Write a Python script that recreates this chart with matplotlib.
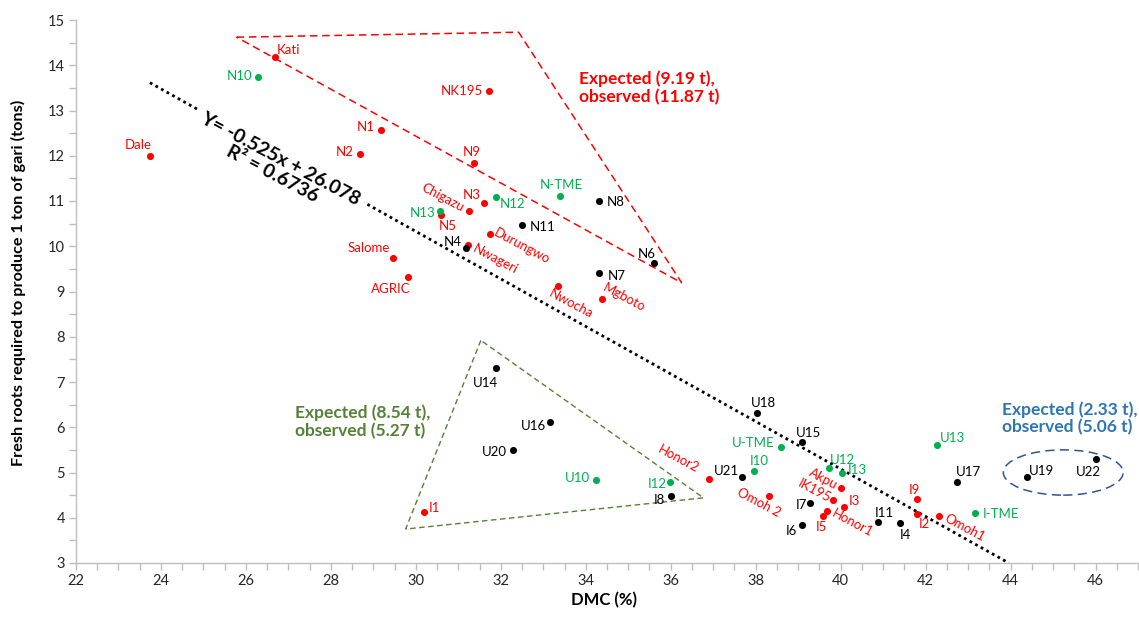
import numpy as np
import matplotlib
matplotlib.use("Agg")
import matplotlib.pyplot as plt
from matplotlib.patches import Polygon, Ellipse

plt.rcParams['font.family'] = ['Lato', 'DejaVu Sans']

# red varieties
red_names = ['Kati', 'Dale', 'N1', 'N2', 'NK195', 'N9', 'N3', 'Chigazu', 'N5', 'Durungwo',
             'Nwageri', 'Salome', 'AGRIC', 'Nwocha', 'Mgboto', 'I1', 'Honor2', 'Omoh 2',
             'Akpu', 'IK195', 'I3', 'Honor1', 'I5', 'I9', 'I2', 'Omoh1']
red_x = [26.69, 23.74, 29.18, 28.68, 31.73, 31.38, 31.60, 31.25, 30.60, 31.75,
         31.22, 29.47, 29.81, 33.35, 34.38, 30.19, 36.91, 38.31,
         40.02, 39.83, 40.09, 39.69, 39.58, 41.79, 41.79, 42.31]
red_y = [14.19, 12.00, 12.56, 12.03, 13.43, 11.85, 10.95, 10.79, 10.68, 10.28,
         10.03, 9.74, 9.32, 9.12, 8.83, 4.12, 4.85, 4.47,
         4.66, 4.39, 4.24, 4.14, 4.03, 4.42, 4.08, 4.04]

# green varieties
green_names = ['N10', 'N12', 'N-TME', 'N13', 'U10', 'I12', 'U-TME', 'I10', 'U12', 'I13', 'U13', 'I-TME']
green_x = [26.29, 31.89, 33.40, 30.58, 34.23, 35.99, 38.60, 37.97, 39.73, 40.03, 42.28, 43.17]
green_y = [13.75, 11.09, 11.12, 10.78, 4.83, 4.78, 5.56, 5.04, 5.11, 4.98, 5.60, 4.11]

# black varieties
black_names = ['N8', 'N11', 'N4', 'N6', 'N7', 'U14', 'U16', 'U20', 'I8', 'U18', 'U15',
               'U21', 'I7', 'I6', 'I11', 'I4', 'U17', 'U19', 'U22']
black_x = [34.31, 32.49, 31.17, 35.60, 34.30, 31.89, 33.16, 32.28, 36.01, 38.03, 39.08,
           37.68, 39.27, 39.10, 40.88, 41.39, 42.74, 44.39, 46.02]
black_y = [11.00, 10.46, 9.96, 9.63, 9.41, 7.30, 6.12, 5.49, 4.48, 6.32, 5.67,
           4.89, 4.32, 3.85, 3.90, 3.88, 4.80, 4.90, 5.29]

# trend line y = a*x + b
slope = -0.525
intercept = 26.078
r2 = 0.6736
trend_x0 = 23.74

# outline shapes
red_tri_x = [25.78, 32.42, 36.26]
red_tri_y = [14.62, 14.73, 9.19]
green_tri_x = [31.53, 29.76, 36.77]
green_tri_y = [7.92, 3.75, 4.44]
blue_ell = (45.24, 5.0, 2.82, 1.0)

# label placement: dx, dy (pixels, y down), ha, rotation
lab = {
    'Kati': (2, -8, 'left', 0), 'Dale': (2, -12, 'right', 0), 'N1': (-6, -4, 'right', 0),
    'N2': (-6, -3, 'right', 0), 'NK195': (-6, -1, 'right', 0), 'N9': (-3, -12, 'center', 0),
    'N3': (-3, -9, 'right', 0), 'Chigazu': (-26, -13, 'center', -28), 'N5': (6, 10, 'center', 0),
    'Durungwo': (32, 13, 'center', -28), 'Nwageri': (28, 14, 'center', -28),
    'Salome': (-3, -11, 'right', 0), 'AGRIC': (3, 11, 'right', 0),
    'Nwocha': (13, 18, 'center', -28), 'Mgboto': (22, -2, 'center', -28), 'I1': (5, -5, 'left', 0),
    'Honor2': (-31, -20, 'center', -28), 'Omoh 2': (-10, 6, 'center', -28),
    'Akpu': (-18, -9, 'center', -28), 'IK195': (-19, -9, 'center', -28), 'I3': (4, -7, 'left', 0),
    'Honor1': (25, 12, 'center', -28), 'I5': (-1, 10, 'center', 0), 'I9': (-2.5, -10, 'center', 0),
    'I2': (7.5, 9, 'center', 0), 'Omoh1': (26, 12, 'center', -28),
    'N10': (-6, -2, 'right', 0), 'N12': (4, 6, 'left', 0), 'N-TME': (1, -12, 'center', 0),
    'N13': (-5, 1, 'right', 0), 'U10': (-6, -3, 'right', 0), 'I12': (-4, 1, 'right', 0),
    'U-TME': (-7, -5, 'right', 0), 'I10': (5, -11, 'center', 0), 'U12': (1, -9, 'left', 0),
    'I13': (6, -4, 'left', 0), 'U13': (2, -8, 'left', 0), 'I-TME': (7, 0, 'left', 0),
    'N8': (8, 0, 'left', 0), 'N11': (8, 1, 'left', 0), 'N4': (-4, -7, 'right', 0),
    'N6': (-7, -10, 'center', 0), 'N7': (9, 2, 'left', 0), 'U14': (-11, 14, 'center', 0),
    'U16': (-4, 3, 'right', 0), 'U20': (-6, 1, 'right', 0), 'I8': (-6, 3, 'right', 0),
    'U18': (6, -11, 'center', 0), 'U15': (7, -10, 'center', 0), 'U21': (-3, -7, 'right', 0),
    'I7': (-3, 1, 'right', 0), 'I6': (-5, 5, 'right', 0), 'I11': (6, -10, 'center', 0),
    'I4': (6, 11, 'center', 0), 'U17': (-1, -11, 'left', 0), 'U19': (2, -7, 'left', 0),
    'U22': (-8, 12, 'center', 0),
}

RED = '#FF0000'
GREEN = '#00B050'
DKGREEN = '#548235'
BLUE = '#2E75B6'

fig = plt.figure(figsize=(11.39, 6.25), dpi=100)
ax = fig.add_axes([76 / 1139, 62 / 625, 1062 / 1139, 543 / 625])

# trend line
tx = np.array([trend_x0, (3 - intercept) / slope])
ax.plot(tx, slope * tx + intercept, color='black', lw=2.0, linestyle=(0, (1, 1.3)), zorder=1)

ax.text(26.72, 11.76, 'Y= %.3fx + %.3f\nR\u00b2 = %.4f' % (slope, intercept, r2),
        rotation=-28, ha='center', va='center', multialignment='center',
        fontsize=14, fontweight='bold', linespacing=1.0, zorder=2,
        bbox=dict(facecolor='white', edgecolor='none', pad=4))

for names, xs, ys, c in [(red_names, red_x, red_y, RED),
                         (green_names, green_x, green_y, GREEN),
                         (black_names, black_x, black_y, 'black')]:
    ax.scatter(xs, ys, s=26, color=c, zorder=3, linewidths=0)
    for n, x, y in zip(names, xs, ys):
        dx, dy, ha, rot = lab[n]
        va = 'center' if rot else 'center_baseline'
        ax.annotate(n, (x, y), xytext=(dx, -dy), textcoords='offset pixels',
                    ha=ha, va=va, rotation=rot, color=c, fontsize=9.5, zorder=4)

# outlines
ax.add_patch(Polygon(list(zip(red_tri_x, red_tri_y)), closed=True, fill=False,
                     edgecolor=RED, lw=1.1, linestyle=(0, (5, 3)), zorder=2))
ax.add_patch(Polygon(list(zip(green_tri_x, green_tri_y)), closed=True, fill=False,
                     edgecolor=DKGREEN, lw=1.0, linestyle=(0, (4, 2.5)), zorder=2))
ex, ey, ew, eh = blue_ell
ax.add_patch(Ellipse((ex, ey), ew, eh, fill=False, edgecolor='#2F5597', lw=1.1,
                     linestyle=(0, (6, 3.5)), zorder=2))

note_kw = dict(fontsize=12.5, fontweight='bold', ha='left', va='center', linespacing=1.1)
ax.text(33.85, 13.50, 'Expected (9.19 t),\nobserved (11.87 t)', color=RED, **note_kw)
ax.text(27.16, 6.12, 'Expected (8.54 t),\nobserved (5.27 t)', color=DKGREEN, **note_kw)
ax.text(43.81, 6.19, 'Expected (2.33 t),\nobserved (5.06 t)', color=BLUE, **note_kw)

ax.set_xlim(22, 47)
ax.set_ylim(3, 15)
ax.set_xticks(np.arange(22, 47, 2))
ax.set_xticks(np.arange(22, 47.01, 0.5), minor=True)
ax.set_yticks(np.arange(3, 15.01, 1))
ax.set_yticks(np.arange(3, 15.01, 0.5), minor=True)
for s in ['top', 'right']:
    ax.spines[s].set_visible(False)
for s in ['left', 'bottom']:
    ax.spines[s].set_color('#BFBFBF')
    ax.spines[s].set_linewidth(1.0)
ax.tick_params(which='both', direction='out', length=5, color='#BFBFBF', width=1.0)
ax.tick_params(which='major', labelsize=10.5, labelcolor='#262626', pad=3)

fig.text(18 / 1139, 1 - 283 / 625, 'Fresh roots required to produce 1 ton of gari (tons)',
         rotation=90, ha='center', va='center', fontsize=11.7, fontweight='bold')
fig.text(604 / 1139, 1 - 600 / 625, 'DMC (%)', ha='center', va='center',
         fontsize=12, fontweight='bold')

fig.savefig('out.png', dpi=100)
